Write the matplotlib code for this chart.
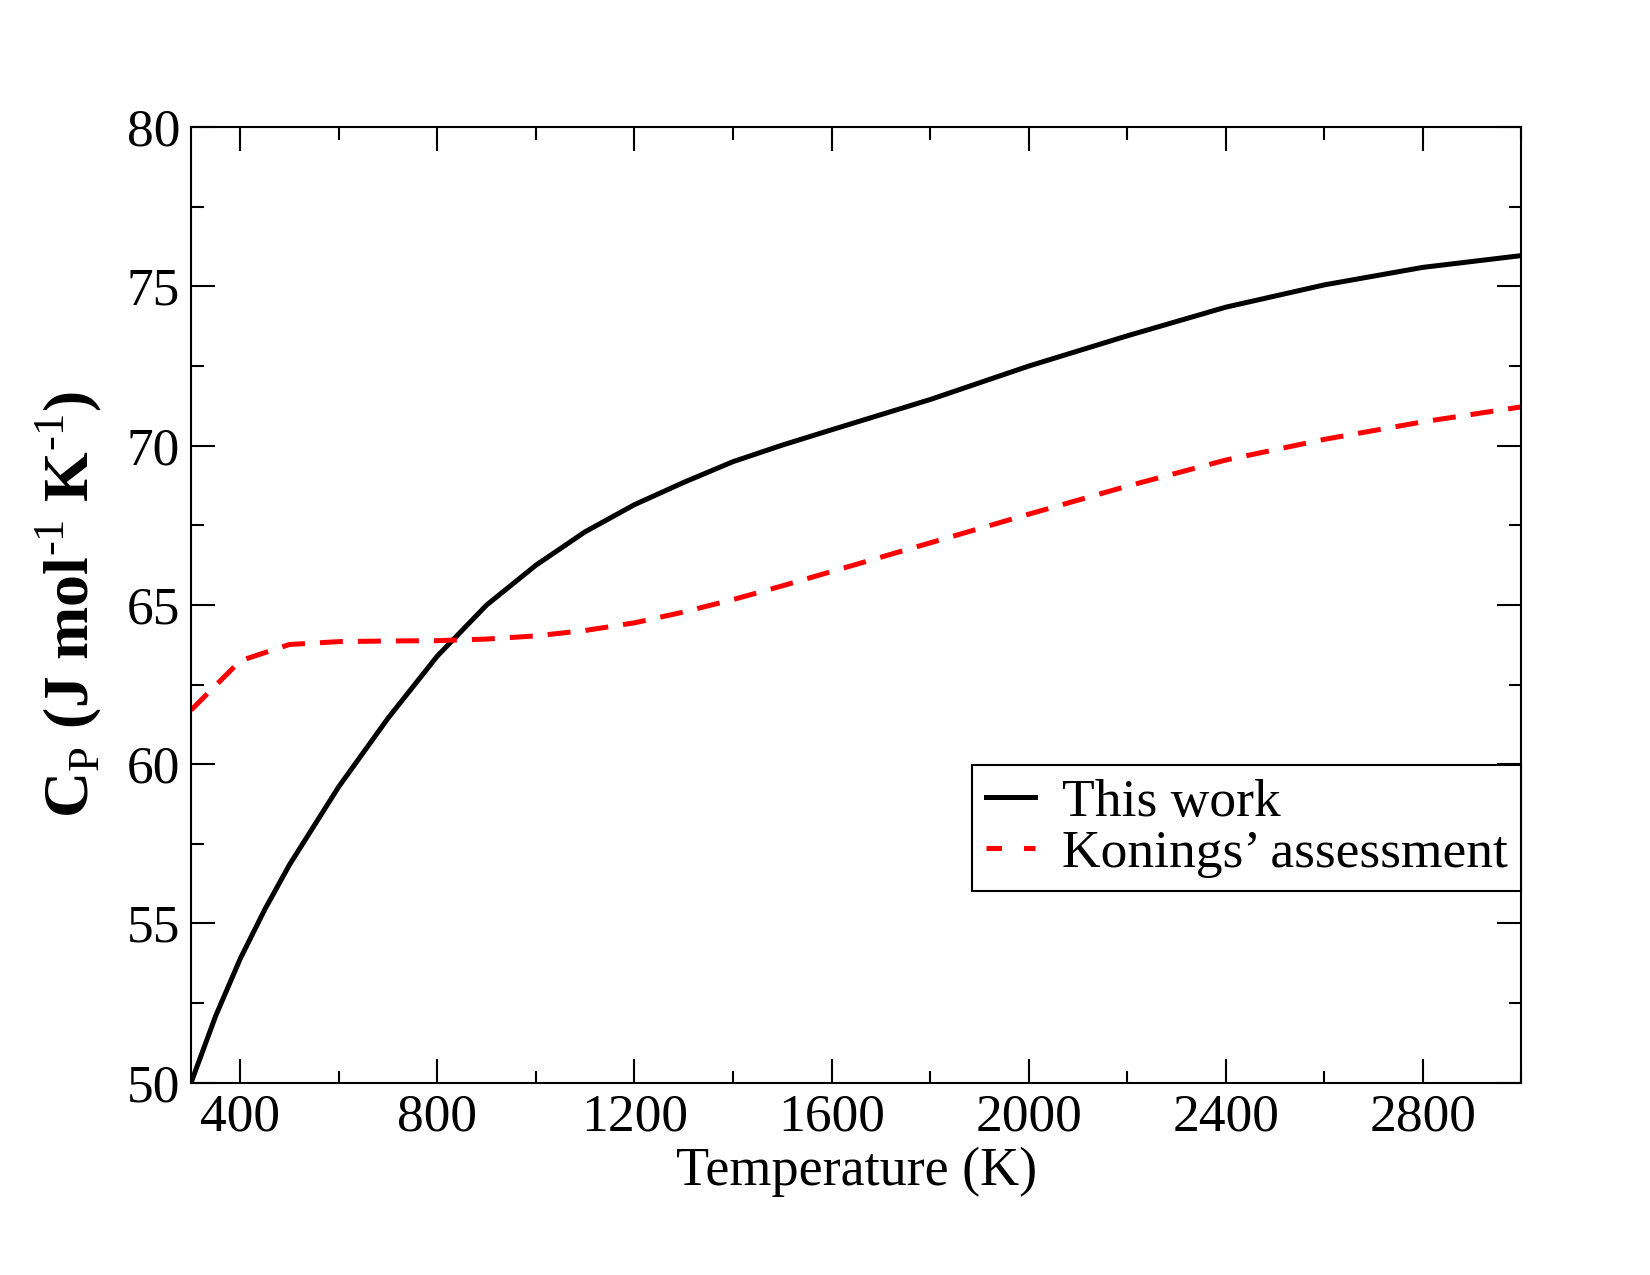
import matplotlib
matplotlib.use('Agg')
import matplotlib.pyplot as plt
from matplotlib.lines import Line2D
from matplotlib.ticker import MultipleLocator

plt.rcParams['font.family'] = 'Liberation Serif'
plt.rcParams['mathtext.fontset'] = 'custom'
plt.rcParams['mathtext.rm'] = 'Liberation Serif'
plt.rcParams['mathtext.bf'] = 'Liberation Serif:bold'

# heat capacity, this work
temp_this = [300, 350, 400, 450, 500, 600, 700, 800, 900, 1000, 1100, 1200, 1300,
             1400, 1500, 1600, 1800, 2000, 2200, 2400, 2600, 2800, 3000]
cp_this = [50.0, 52.1, 53.9, 55.45, 56.85, 59.3, 61.45, 63.4, 65.0, 66.25, 67.3, 68.15,
           68.85, 69.5, 70.02, 70.5, 71.45, 72.5, 73.45, 74.35, 75.05, 75.6, 75.97]

# Konings' assessment
temp_kon = [300, 400, 500, 600, 700, 800, 900, 1000, 1100, 1200, 1300, 1400, 1500,
            1600, 1800, 2000, 2200, 2400, 2600, 2800, 3000]
cp_kon = [61.7, 63.25, 63.76, 63.85, 63.87, 63.88, 63.93, 64.03, 64.2, 64.44, 64.78,
          65.17, 65.6, 66.05, 66.95, 67.85, 68.73, 69.55, 70.2, 70.75, 71.22]

fig = plt.figure(figsize=(16.5, 12.75), dpi=100)
ax = fig.add_axes([0.1158, 0.1508, 0.8062, 0.7494])

l1, = ax.plot(temp_this, cp_this, color='black', lw=3.6)
ax.plot(temp_kon, cp_kon, color='red', lw=3.6, dashes=(4.6, 3.0))

ax.set_xlim(300, 3000)
ax.set_ylim(50, 80)
ax.xaxis.set_major_locator(MultipleLocator(400))
ax.xaxis.set_minor_locator(MultipleLocator(200))
ax.yaxis.set_major_locator(MultipleLocator(5))
ax.yaxis.set_minor_locator(MultipleLocator(2.5))
ax.tick_params(which='both', direction='in', top=True, right=True, width=1.5, labelsize=38.5)
ax.tick_params(which='major', length=17, pad=8)
ax.tick_params(which='minor', length=9)
for s in ax.spines.values():
    s.set_linewidth(1.5)

ax.set_xlabel('Temperature (K)', fontsize=39, labelpad=3)
ax.set_ylabel('$\\mathbf{C}_\\mathrm{P}$ (J mol$^{\\mathrm{\u20101}}$ K$^{\\mathrm{\u20101}}$)',
              fontsize=46, fontweight='bold', labelpad=16)

# legend dashes are drawn shorter than on the curve
proxy_kon = Line2D([], [], color='red', lw=3.6, dashes=(3.1, 4.4))
leg = ax.legend([l1, proxy_kon], ['This work', "Konings\u2019 assessment"],
                loc='upper right', bbox_to_anchor=(1.0, 0.3325), borderaxespad=0,
                fontsize=38.5, fancybox=False, edgecolor='black', framealpha=1,
                handlelength=0.93, handletextpad=0.5, labelspacing=0.05, borderpad=0.25)
leg.get_frame().set_linewidth(1.5)

fig.savefig('out.png', dpi=100)
